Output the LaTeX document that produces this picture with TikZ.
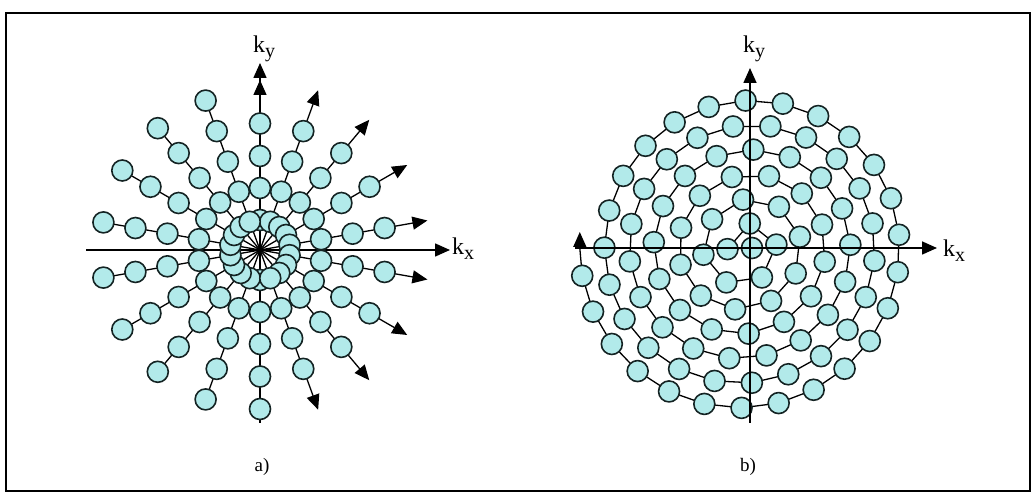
\documentclass[tikz,border=0pt]{standalone}
\usepackage{fontspec}
\setmainfont{Liberation Serif}
\usetikzlibrary{arrows.meta}
\pgfdeclarelayer{bg}
\pgfsetlayers{bg,main}
\definecolor{dotfill}{RGB}{178,234,234}
\definecolor{dotline}{RGB}{20,35,35}
\begin{document}
\begin{tikzpicture}[x=1pt,y=1pt,
  samp/.style={circle,draw=dotline,fill=dotfill,line width=1.6pt,minimum size=21pt,inner sep=0pt},
  spoke/.style={line width=1.3pt,-{Triangle[length=15pt,width=13pt]}},
  axis/.style={line width=1.6pt,-{Triangle[length=15pt,width=13pt]}},
  link/.style={line width=1.3pt},
  klab/.style={font=\fontsize{24}{24}\selectfont, inner sep=0pt, anchor=base west},
  panellab/.style={font=\fontsize{19}{19}\selectfont}]
\useasboundingbox (0,0) rectangle (1036,495);
\draw[line width=2pt] (6,482) rectangle (1030,4);

% ---------- panel a: radial ----------
\coordinate (ca) at (260,245);
\coordinate (axaL) at (86,245);
\coordinate (axaR) at (450,245);
\coordinate (axaB) at (260,72);
\coordinate (axaT) at (260,432);
\begin{pgfonlayer}{bg}
\draw[axis] (axaL) -- (axaR);
\draw[axis] (axaB) -- (axaT);
\end{pgfonlayer}
\foreach \al [count=\k] in {90,70,50,30,10,-10,-30,-50,-70} {
  \foreach \r [count=\n] in {30,62,94,126.5}
    \node[samp] (a\k p\n) at ([shift={(\al:\r)}]ca) {};
  \foreach \r [count=\n] in {30,62,94,126.5,159}
    \node[samp] (a\k m\n) at ([shift={(\al+180:\r)}]ca) {};
  \coordinate (a\k t) at ([shift={(\al:170)}]ca);
  \begin{pgfonlayer}{bg}
    \draw[spoke] (a\k m5.center) -- (a\k t);
  \end{pgfonlayer}
}
\node[klab] (kxa) at (452,240) {k\raisebox{-5pt}{\fontsize{20}{20}\selectfont x}};
\node[klab] (kya) at (253,442) {k\raisebox{-5pt}{\fontsize{20}{20}\selectfont y}};
\node[panellab] (la) at (262,28) {a)};

% ---------- panel b: spiral ----------
\def\pp{24.6}
\foreach \i in {0,...,93} {
  \pgfmathsetmacro{\s}{\i*37.51}
  \pgfmathsetmacro{\q}{4*\s/(pi*\pp)}
  \pgfmathtruncatemacro{\j}{min(12,floor((sqrt(1+4*\q)-1)/2))}
  \pgfmathsetmacro{\R}{(\j+1)*\pp/2}
  \pgfmathsetmacro{\th}{deg((\s-pi*\pp/4*\j*(\j+1))/\R)}
  \pgfmathtruncatemacro{\odd}{mod(\j,2)}
  \pgfmathsetmacro{\ang}{\odd==1 ? 180-\th : -\th}
  \pgfmathsetmacro{\cx}{\odd==1 ? 752 : 739.7}
  \node[samp] (b\i) at ({\cx+\R*cos(\ang)},{247+\R*sin(\ang)}) {};
}
\coordinate (bend) at (579.8,247);
\coordinate (btip) at (579.8,263);
\begin{pgfonlayer}{bg}
\foreach \i [evaluate=\i as \nx using int(\i+1)] in {0,...,92}
  \draw[link] (b\i.center) -- (b\nx.center);
\draw[link,-{Triangle[length=15pt,width=13pt]}] (b93.center) -- (bend) -- (btip);
\end{pgfonlayer}
\coordinate (axbL) at (575,247);
\coordinate (axbR) at (937,247);
\coordinate (axbB) at (750,72);
\coordinate (axbT) at (750,427);
\draw[axis] (axbL) -- (axbR);
\draw[axis] (axbB) -- (axbT);
\node[klab] (kxb) at (943,238) {k\raisebox{-5pt}{\fontsize{20}{20}\selectfont x}};
\node[klab] (kyb) at (743,442) {k\raisebox{-5pt}{\fontsize{20}{20}\selectfont y}};
\node[panellab] (lb) at (748,28) {b)};
\end{tikzpicture}
\end{document}
